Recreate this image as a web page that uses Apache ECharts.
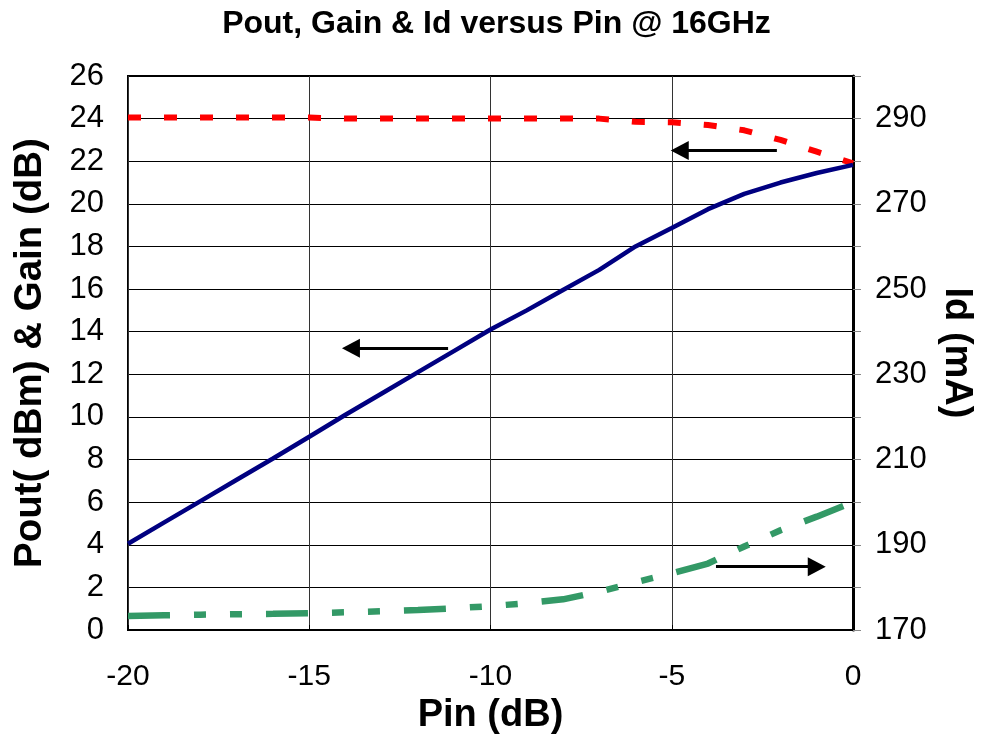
<!DOCTYPE html>
<html>
<head>
<meta charset="utf-8">
<script src="https://cdn.jsdelivr.net/npm/echarts@6/dist/echarts.min.js"></script>
<style>
html,body{margin:0;padding:0;background:#fff;}
#chart{width:993px;height:746px;}
</style>
</head>
<body>
<div id="chart"></div>
<script>
// ---- data ----
const pin  = [-20,-19,-18,-17,-16,-15,-14,-13,-12,-11,-10,-9,-8,-7,-6,-5,-4,-3,-2,-1,0];
const pout = [4.05,5.05,6.05,7.05,8.05,9.07,10.1,11.1,12.1,13.1,14.1,15.0,15.96,16.9,18.0,18.87,19.75,20.47,21.0,21.45,21.83];
const gain = [24.05,24.05,24.05,24.05,24.05,24.05,24.0,24.0,24.0,24.0,24.0,24.0,24.0,24.0,23.85,23.83,23.7,23.45,23.0,22.45,21.9];
const idmA = [173.3,173.45,173.6,173.7,173.8,173.95,174.15,174.4,174.7,175.1,175.6,176.3,177.2,179.0,181.2,183.3,185.6,189.6,193.4,196.6,200.0];
const rightTickLabels = [170,190,210,230,250,270,290];
// annotation arrows: [fromX, fromY, toX, toY] in left-axis data units
const arrowGain = [-2.1, 22.5, -4.78, 22.5];
const arrowPout = [-11.17, 13.22, -13.85, 13.22];
const arrowId   = [-3.78, 2.97, -1.0, 2.97];

const FONT = 'Liberation Sans, Arial, sans-serif';
const toPairs = (xs, ys) => xs.map((x, i) => [x, ys[i]]);
const arrow = a => [{coord: [a[0], a[1]]}, {coord: [a[2], a[3]]}];

const chart = echarts.init(document.getElementById('chart'));
chart.setOption({
  animation: false,
  backgroundColor: '#fff',
  title: {
    text: 'Pout, Gain & Id versus Pin @ 16GHz',
    left: 'center', top: 3,
    textStyle: {fontFamily: FONT, fontSize: 32, fontWeight: 'bold', color: '#000'}
  },
  grid: {left: 128, right: 140, top: 76, bottom: 116, show: true, borderColor: '#000', borderWidth: 2, backgroundColor: 'transparent'},
  xAxis: {
    type: 'value', min: -20, max: 0, interval: 5,
    name: 'Pin (dB)', nameLocation: 'middle', nameGap: 66,
    nameTextStyle: {fontFamily: FONT, fontSize: 38, fontWeight: 'bold', color: '#000'},
    axisLine: {onZero: false, lineStyle: {color: '#000', width: 2}},
    axisTick: {inside: true, length: 5, lineStyle: {color: '#000'}},
    axisLabel: {fontFamily: FONT, fontSize: 30, color: '#000', margin: 32},
    splitLine: {show: true, lineStyle: {color: '#333', width: 1}}
  },
  yAxis: [{
    type: 'value', min: 0, max: 26, interval: 2, position: 'left',
    name: 'Pout( dBm) & Gain (dB)', nameLocation: 'middle', nameGap: 78,
    nameTextStyle: {fontFamily: FONT, fontSize: 38.5, fontWeight: 'bold', color: '#000'},
    axisLine: {show: true, lineStyle: {color: '#000', width: 3}},
    axisTick: {show: true, inside: true, length: 8, lineStyle: {color: '#888'}},
    axisLabel: {fontFamily: FONT, fontSize: 31, color: '#000', margin: 24},
    splitLine: {show: true, lineStyle: {color: '#000', width: 1}}
  }, {
    type: 'value', min: 170, max: 300, interval: 10, position: 'right',
    name: 'Id (mA)', nameLocation: 'middle', nameGap: 84, nameRotate: -90,
    nameTextStyle: {fontFamily: FONT, fontSize: 38, fontWeight: 'bold', color: '#000'},
    axisLine: {show: true, lineStyle: {color: '#000', width: 2}},
    axisTick: {show: false},
    axisLabel: {
      fontFamily: FONT, fontSize: 31, color: '#000', margin: 22,
      formatter: v => rightTickLabels.indexOf(v) >= 0 ? String(v) : ''
    },
    splitLine: {show: false}
  }],
  series: [{
    name: 'Gain', type: 'line', yAxisIndex: 0, data: toPairs(pin, gain),
    showSymbol: false, symbol: 'none', silent: true,
    lineStyle: {color: '#ff0000', width: 6, type: [13, 23], cap: 'butt'}
  }, {
    name: 'Id', type: 'line', yAxisIndex: 1, data: toPairs(pin, idmA),
    showSymbol: false, symbol: 'none', silent: true,
    lineStyle: {color: '#339966', width: 6.5, type: [42, 24, 12, 24, 12, 24], cap: 'butt'}
  }, {
    name: 'Pout', type: 'line', yAxisIndex: 0, data: toPairs(pin, pout),
    showSymbol: false, symbol: 'none', silent: true,
    lineStyle: {color: '#000080', width: 4.5},
    markLine: {
      silent: true, animation: false,
      symbol: ['none', 'triangle'], symbolSize: [19, 18],
      label: {show: false},
      lineStyle: {color: '#000', width: 3, type: 'solid'},
      emphasis: {disabled: true},
      data: [arrow(arrowGain), arrow(arrowPout), arrow(arrowId)]
    }
  }]
});
</script>
</body>
</html>
